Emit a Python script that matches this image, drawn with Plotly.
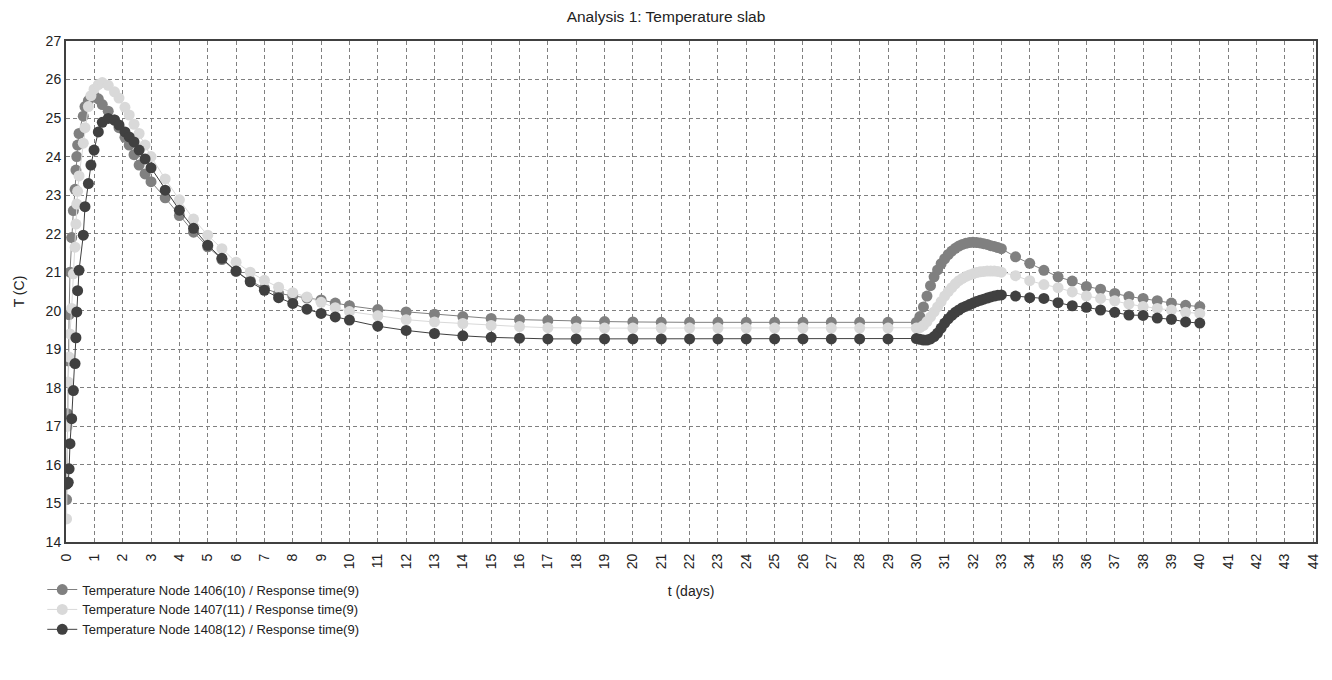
import plotly.graph_objects as go

# shared response times (days)
t_days = [
    0.02, 0.05, 0.08, 0.11, 0.14, 0.2, 0.26, 0.32, 0.35, 0.38,
    0.41, 0.46, 0.61, 0.67, 0.79, 0.88, 0.99, 1.14, 1.28, 1.49,
    1.71, 1.87, 2.08, 2.23, 2.40, 2.58, 2.79, 3.0, 3.5, 4.0,
    4.5, 5.0, 5.5, 6.0, 6.5, 7.0, 7.5, 8.0, 8.5, 9.0, 9.5, 10.0,
    11, 12, 13, 14, 15, 16, 17, 18, 19, 20,
    21, 22, 23, 24, 25, 26, 27, 28, 29, 30,
    30.125, 30.25, 30.375, 30.5, 30.625, 30.75, 30.875, 31.0,
    31.125, 31.25, 31.375, 31.5, 31.625, 31.75, 31.875, 32.0,
    32.125, 32.25, 32.375, 32.5, 32.625, 32.75, 32.875, 33.0,
    33.5, 34.0, 34.5, 35.0, 35.5, 36.0, 36.5, 37.0,
    37.5, 38.0, 38.5, 39.0, 39.5, 40.0,
]

temp_1406 = [
    15.1, 17.33, 18.7, 19.9, 21.0, 21.9, 22.6, 23.15, 23.65, 24.0,
    24.3, 24.6, 25.05, 25.3, 25.45, 25.55, 25.58, 25.5, 25.35, 25.18,
    24.95, 24.75, 24.5, 24.3, 24.05, 23.78, 23.55, 23.35, 22.93, 22.47,
    22.04, 21.66, 21.33, 21.02, 20.78, 20.58, 20.45, 20.38, 20.33, 20.28, 20.2, 20.13,
    20.03, 19.97, 19.91, 19.85, 19.8, 19.77, 19.75, 19.73, 19.72, 19.71,
    19.7, 19.7, 19.7, 19.7, 19.7, 19.7, 19.7, 19.7, 19.7, 19.7,
    19.85, 20.1, 20.38, 20.65, 20.88, 21.06, 21.22, 21.35,
    21.46, 21.55, 21.62, 21.68, 21.72, 21.75, 21.77, 21.78,
    21.77, 21.76, 21.74, 21.72, 21.69, 21.67, 21.64, 21.61,
    21.40, 21.23, 21.05, 20.88, 20.77, 20.63, 20.56, 20.45,
    20.37, 20.32, 20.26, 20.2, 20.14, 20.11,
]

temp_1407 = [
    14.6, 17.0, 18.15, 18.8, 19.4, 20.06, 20.96, 21.65, 22.25, 22.77,
    23.1, 23.5, 24.35, 24.75, 25.3, 25.58, 25.75, 25.87, 25.92, 25.85,
    25.68, 25.52, 25.28, 25.08, 24.84, 24.6, 24.3, 24.0, 23.42, 22.88,
    22.38, 21.96, 21.61, 21.26, 21.0, 20.79, 20.61, 20.47, 20.36, 20.22, 20.08, 19.98,
    19.87, 19.77, 19.71, 19.67, 19.62, 19.59, 19.56, 19.55, 19.55, 19.55,
    19.55, 19.55, 19.55, 19.55, 19.55, 19.55, 19.55, 19.55, 19.55, 19.55,
    19.56, 19.62, 19.72, 19.84, 19.97, 20.1, 20.24, 20.38,
    20.5, 20.6, 20.7, 20.78, 20.84, 20.89, 20.93, 20.96,
    20.99, 21.01, 21.02, 21.03, 21.03, 21.03, 21.02, 21.0,
    20.91, 20.78, 20.68, 20.6, 20.49, 20.38, 20.32, 20.26,
    20.17, 20.11, 20.06, 20.02, 19.96, 19.93,
]

temp_1408 = [
    15.5, 15.52, 15.55, 15.9, 16.55, 17.2, 17.93, 18.63, 19.3, 19.97,
    20.52, 21.05, 21.96, 22.7, 23.3, 23.78, 24.17, 24.64, 24.89, 24.99,
    24.95, 24.82, 24.64, 24.51, 24.38, 24.17, 23.94, 23.71, 23.13, 22.61,
    22.14, 21.7, 21.36, 21.03, 20.75, 20.53, 20.34, 20.19, 20.04, 19.93, 19.84, 19.76,
    19.6, 19.49, 19.41, 19.35, 19.31, 19.29, 19.27, 19.27, 19.27, 19.27,
    19.27, 19.27, 19.27, 19.27, 19.27, 19.27, 19.27, 19.27, 19.27, 19.28,
    19.26, 19.24, 19.24, 19.27, 19.33, 19.42, 19.55, 19.68,
    19.79, 19.88, 19.96, 20.02, 20.08, 20.12, 20.16, 20.2,
    20.24, 20.27, 20.3, 20.33, 20.36, 20.38, 20.4, 20.41,
    20.38, 20.34, 20.32, 20.21, 20.13, 20.09, 20.02, 19.96,
    19.89, 19.88, 19.81, 19.78, 19.71, 19.68,
]

series = [
    ("Temperature Node 1406(10) / Response time(9)", temp_1406, "#808080"),
    ("Temperature Node 1407(11) / Response time(9)", temp_1407, "#d9d9d9"),
    ("Temperature Node 1408(12) / Response time(9)", temp_1408, "#404040"),
]

fig = go.Figure()
for name, values, color in series:
    fig.add_trace(
        go.Scatter(
            x=t_days,
            y=values,
            name=name,
            mode="lines+markers",
            line=dict(color=color, width=1),
            marker=dict(symbol="circle", size=11, color=color),
        )
    )

axis_common = dict(
    showgrid=True,
    gridcolor="#808080",
    gridwidth=1,
    griddash="4px,3px",
    zeroline=False,
    showline=True,
    linecolor="#404040",
    linewidth=2,
    mirror=True,
    ticks="",
    automargin=False,
    tickfont=dict(size=14, color="#222222"),
    title_font=dict(size=14, color="#222222"),
)

fig.update_xaxes(
    axis_common,
    range=[0, 44.1],
    tick0=0,
    dtick=1,
    tickangle=-90,
    ticklabelstandoff=4,
    title_text="t (days)",
    title_standoff=18,
)
fig.update_yaxes(
    axis_common,
    range=[14, 27],
    tick0=14,
    dtick=1,
    title_text="T (C)",
    title_standoff=18,
)

fig.update_layout(
    width=1332,
    height=680,
    autosize=False,
    paper_bgcolor="white",
    plot_bgcolor="white",
    font=dict(family="Arial, Liberation Sans, sans-serif", size=14, color="#222222"),
    title=dict(
        text="Analysis 1: Temperature slab",
        x=0.5,
        xanchor="center",
        y=0.975,
        yanchor="middle",
        font=dict(size=15.5, color="#222222"),
    ),
    margin=dict(l=66, r=16, t=41, b=138),
    showlegend=True,
    legend=dict(
        x=-0.019,
        xanchor="left",
        y=-0.065,
        yanchor="top",
        orientation="v",
        font=dict(size=13, color="#222222"),
        bgcolor="rgba(0,0,0,0)",
        tracegroupgap=0,
    ),
)

# page body has a default 8px margin; drop it so the figure sits at the window origin
fig.write_html(
    "out.html",
    config={"displayModeBar": False},
    post_script="document.body.style.margin = '0';",
)
